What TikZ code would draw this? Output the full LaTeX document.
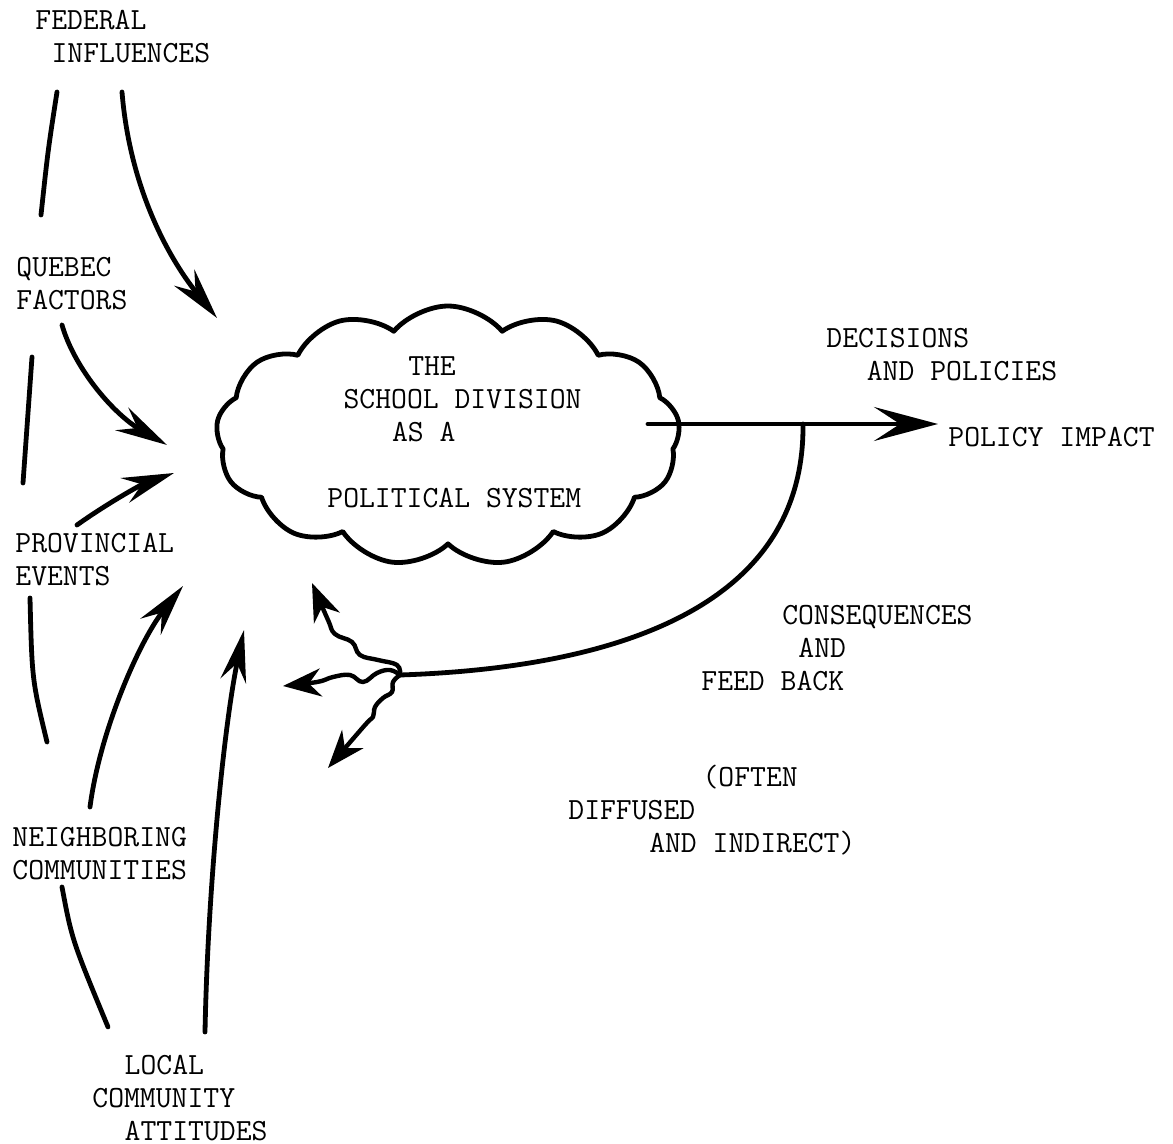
\documentclass[tikz,border=0pt]{standalone}
\usetikzlibrary{arrows.meta,shapes.symbols}
\newlength\chw
\setlength\chw{8.085pt}
\newcommand{\ind}[1]{\hspace*{#1\chw}}
\tikzset{
  hand/.style={line width=2.4pt, line cap=round, line join=round},
  flow/.style={hand, -{Stealth[length=26pt, width=13pt, inset=9pt]}},
  wiggle/.style={hand, line width=2.2pt, -{Stealth[length=19pt, width=14pt, inset=6pt]}},
  lbl/.style={anchor=base west, inner sep=0pt, align=left},
}
\begin{document}
\begin{tikzpicture}[x=0.5pt, y=-0.5pt, font=\ttfamily\fontsize{15.4}{16.5}\selectfont]
\useasboundingbox (0,0) rectangle (1173,1144);

% the system
\node[cloud, draw, hand, cloud puffs=13, cloud puff arc=100, aspect=1.8,
      minimum width=232pt, minimum height=130pt, inner sep=0pt] (cloud) at (448,436) {};
\node[lbl] (sys) at (327,507.4)
  {\ind{5}THE\\\ind{1}SCHOOL DIVISION\\\ind{4}AS A\\[16.5pt]POLITICAL SYSTEM};

% influences
\node[lbl] (fed) at (35,62.4) {FEDERAL\\\ind{1}INFLUENCES};
\node[lbl] (que) at (16,309.4) {QUEBEC\\FACTORS};
\node[lbl] (prov) at (15,585.4) {PROVINCIAL\\EVENTS};
\node[lbl] (neigh) at (12,879.4) {NEIGHBORING\\COMMUNITIES};
\node[lbl] (local) at (92,1140) {\ind{2}LOCAL\\COMMUNITY\\\ind{2}ATTITUDES};

% outputs
\node[lbl] (dec) at (826,380.4) {DECISIONS\\\ind{2.5}AND POLICIES};
\node[lbl] (impact) at (948,446.4) {POLICY IMPACT};
\node[lbl] (cons) at (701,690.4) {\ind{5}CONSEQUENCES\\\ind{6}AND\\FEED BACK};
\node[lbl] (often) at (568,852.4) {\ind{8.3}(OFTEN\\DIFFUSED\\\ind{5}AND INDIRECT)};

\coordinate (fedL1) at (57,92);    \coordinate (fedL2) at (41,215);
\coordinate (fedS) at (122,92);    \coordinate (fedT) at (217,318);
\coordinate (queL1) at (32,357);   \coordinate (queL2) at (23,483);
\coordinate (queS) at (62,325);    \coordinate (queT) at (167,445);
\coordinate (provL1) at (30,598);  \coordinate (provL2) at (47,742);
\coordinate (provS) at (77,525);   \coordinate (provT) at (174,473);
\coordinate (neighL1) at (62,887); \coordinate (neighL2) at (108,1027);
\coordinate (neighS) at (90,807);  \coordinate (neighT) at (183,586);
\coordinate (localS) at (205,1032); \coordinate (localT) at (244,630);
\coordinate (sysout) at (648,424); \coordinate (split) at (803,424);
\coordinate (impactT) at (938,424);
\coordinate (fb) at (400,675);
\coordinate (fbUp) at (312,583);
\coordinate (fbLeft) at (283,686);
\coordinate (fbDown) at (328,768);

\draw[hand] (fedL1) .. controls (48,150) .. (fedL2);
\draw[flow] (fedS) .. controls (130,190) and (170,260) .. (fedT);
\draw[hand] (queL1) -- (queL2);
\draw[flow] (queS) .. controls (75,370) and (115,415) .. (queT);
\draw[flow] (provS) .. controls (105,505) and (140,485) .. (provT);
\draw[hand] (provL1) .. controls (32,680) .. (provL2);
\draw[flow] (neighS) .. controls (100,730) and (140,640) .. (neighT);
\draw[hand] (neighL1) .. controls (72,940) .. (neighL2);
\draw[flow] (localS) .. controls (208,880) and (225,720) .. (localT);

% output and feed back
\draw[hand, -{Stealth[length=32pt, width=17pt, inset=13pt]}] (sysout) -- (impactT);
\draw[hand] (split) .. controls (805,610) and (610,668) .. (fb);
\draw[wiggle] plot[smooth, tension=0.7] coordinates
  {(fb) (397,665) (378,660) (360,655) (352,642) (335,634) (328,620) (fbUp)};
\draw[wiggle] plot[smooth, tension=0.7] coordinates
  {(fb) (390,670) (377,673) (363,682) (350,675) (333,677) (317,682) (fbLeft)};
\draw[wiggle] plot[smooth, tension=0.7] coordinates
  {(fb) (393,682) (392,692) (383,698) (375,707) (373,717) (365,725) (fbDown)};
\end{tikzpicture}
\end{document}
